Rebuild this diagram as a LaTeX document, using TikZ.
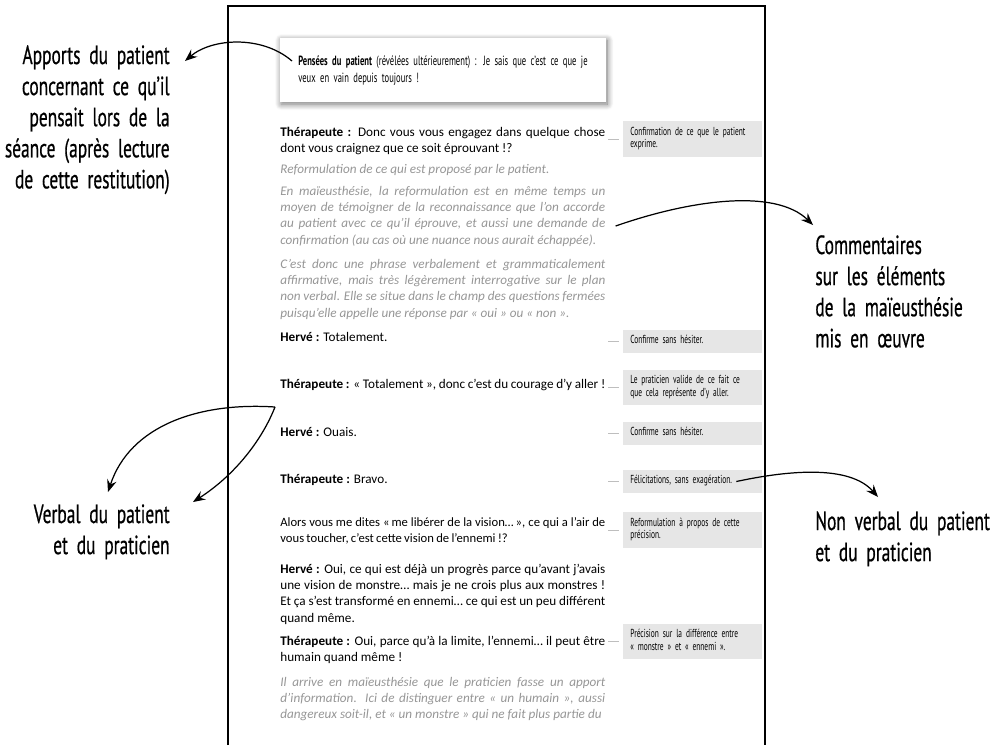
\documentclass[tikz,border=0pt]{standalone}
\usepackage{fontspec}
\setmainfont{Carlito}
\newfontfamily\condfont[FakeStretch=0.64]{PT Sans}
\newfontfamily\sidefont[FakeStretch=0.66, FakeBold=0.6]{PT Sans}
\usetikzlibrary{arrows.meta,shadows.blur}
\definecolor{commentgray}{RGB}{150,150,150}
\definecolor{notefill}{RGB}{230,230,230}
\definecolor{tiegray}{RGB}{190,190,190}
\newcommand{\speaker}[1]{\textbf{#1~:}}

\begin{document}
\begin{tikzpicture}[x=0.02cm, y=-0.02cm,
  talk/.style={anchor=base west, inner sep=0, text width=6.5cm, align=justify, font=\fontsize{7.5}{9.35}\selectfont},
  remark/.style={talk, text=commentgray, font=\fontsize{7.5}{9.35}\selectfont\itshape},
  note/.style={anchor=west, fill=notefill, text width=2.5cm, inner xsep=0.14cm, inner ysep=0.107cm, align=left,
    font=\condfont\fontsize{6.6}{7}\selectfont, execute at begin node=\strut, execute at end node=\strut},
  tie/.style={draw=tiegray, line width=0.5pt},
  side/.style={inner sep=0, text width=4cm, font=\sidefont\fontsize{15}{17.7}\selectfont},
  pointer/.style={line width=0.7pt, -{Stealth[length=7pt,width=5.5pt,inset=2.5pt]}}]
  \useasboundingbox (0,0) rectangle (999,745);
  % the page
  \draw[line width=0.7pt] (228,745) -- (228,6) -- (765,6) -- (765,745);
  \node[anchor=north west, fill=white, text width=5.8cm, inner xsep=0.36cm, minimum height=1.28cm, align=left,
    font=\condfont\fontsize{7.6}{9.6}\selectfont,
    blur shadow={shadow xshift=0.5pt, shadow yshift=-1pt, shadow blur radius=3.5pt, shadow blur steps=12, shadow opacity=55}]
    (thought) at (280,38) {\textbf{Pensées du patient} (révélées ultérieurement)~: Je sais que c’est ce que je\\veux en vain depuis toujours~!};
  % dialogue and comments
  \node[talk] (p1) at (280,136) {\speaker{Thérapeute} Donc vous vous engagez dans quelque chose\linebreak dont vous craignez que ce soit éprouvant~!?};
  \node[remark] (p2) at (280,173) {Reformulation de ce qui est proposé par le patient.};
  \node[remark] (p3) at (280,195) {En maïeusthésie, la reformulation est en même temps un\linebreak moyen de témoigner de la reconnaissance que l’on accorde\linebreak au patient avec ce qu’il éprouve, et aussi une demande de\linebreak confirmation (au cas où une nuance nous aurait échappée).};
  \node[remark] (p4) at (280,268) {C’est donc une phrase verbalement et grammaticalement\linebreak affirmative, mais très légèrement interrogative sur le plan\linebreak non verbal. Elle se situe dans le champ des questions fermées\linebreak puisqu’elle appelle une réponse par «~oui~» ou «~non~».};
  \node[talk] (p5) at (280,341) {\speaker{Hervé} Totalement.};
  \node[talk] (p6) at (280,388) {\speaker{Thérapeute} «~Totalement~», donc c’est du courage d’y aller~!};
  \node[talk] (p7) at (280,436) {\speaker{Hervé} Ouais.};
  \node[talk] (p8) at (280,483) {\speaker{Thérapeute} Bravo.};
  \node[talk, font=\fontsize{7.2}{9.35}\selectfont] (p9) at (280,526) {\spaceskip=0.18em plus 0.3em minus 0.04em Alors vous me dites «\,me libérer de la vision…\,», ce qui a l’air de\linebreak vous toucher, c’est cette vision de l’ennemi~!?};
  \node[talk] (p10) at (280,573) {\speaker{Hervé} Oui, ce qui est déjà un progrès parce qu’avant j’avais\linebreak une vision de monstre… mais je ne crois plus aux monstres~!\linebreak Et ça s’est transformé en ennemi… ce qui est un peu différent\linebreak quand même.};
  \node[talk] (p11) at (280,645) {\speaker{Thérapeute} Oui, parce qu’à la limite, l’ennemi… il peut être\linebreak humain quand même~!};
  \node[remark] (p12) at (280,686) {\parfillskip=0pt Il arrive en maïeusthésie que le praticien fasse un apport\linebreak d’information. Ici de distinguer entre «~un humain~», aussi\linebreak dangereux soit-il, et «~un monstre~» qui ne fait plus partie du};
  % margin notes
  \node[note] (n1) at (623,139) {Confirmation de ce que le patient\\exprime.};
  \node[note] (n2) at (623,341.5) {Confirme sans hésiter.};
  \node[note] (n3) at (623,387.5) {Le praticien valide de ce fait ce\\que cela représente d’y aller.};
  \node[note] (n4) at (623,433.5) {Confirme sans hésiter.};
  \node[note] (n5) at (623,481.5) {Félicitations, sans exagération.};
  \node[note] (n6) at (623,530) {Reformulation à propos de cette\\précision.};
  \node[note] (n7) at (623,641.5) {Précision sur la différence entre\\«~monstre~» et «~ennemi~».};
  \foreach \i in {1,...,7}
    \draw[tie] ([xshift=-0.3cm]n\i.west) -- ([xshift=-0.08cm]n\i.west);
  % labels outside the page
  \node[side, anchor=base east, align=right] (apports) at (170,64) {Apports du patient\\concernant ce qu’il\\pensait lors de la\\séance (après lecture\\de cette restitution)};
  \node[side, anchor=base west, align=left] (comments) at (815,254) {Commentaires\\sur les éléments\\de la maïeusthésie\\mis en œuvre};
  \node[side, anchor=base east, align=right] (verbal) at (170,523) {Verbal du patient\\et du praticien};
  \node[side, anchor=base west, align=left] (nonverbal) at (815,530) {Non verbal du patient\\et du praticien};
  % arrows
  \draw[pointer] ([shift={(12,23)}]thought.north west) .. controls (262,35) and (212,38) .. ([shift={(15,-3)}]apports.base east);
  \draw[pointer] ([shift={(10,31)}]p3.base east) .. controls (690,200) and (775,188) .. ([shift={(-2,-29)}]comments.base west);
  \draw[pointer] ([shift={(-5,19)}]p6.base west) .. controls (200,402) and (130,425) .. ([shift={(-62,-31)}]verbal.base east);
  \draw[pointer] ([shift={(-5,19)}]p6.base west) .. controls (262,440) and (235,475) .. ([shift={(23,-21)}]verbal.base east);
  \draw[pointer] ([xshift=-15]n5.east) .. controls (790,470) and (850,465) .. ([shift={(63,-33)}]nonverbal.base west);
\end{tikzpicture}
\end{document}
